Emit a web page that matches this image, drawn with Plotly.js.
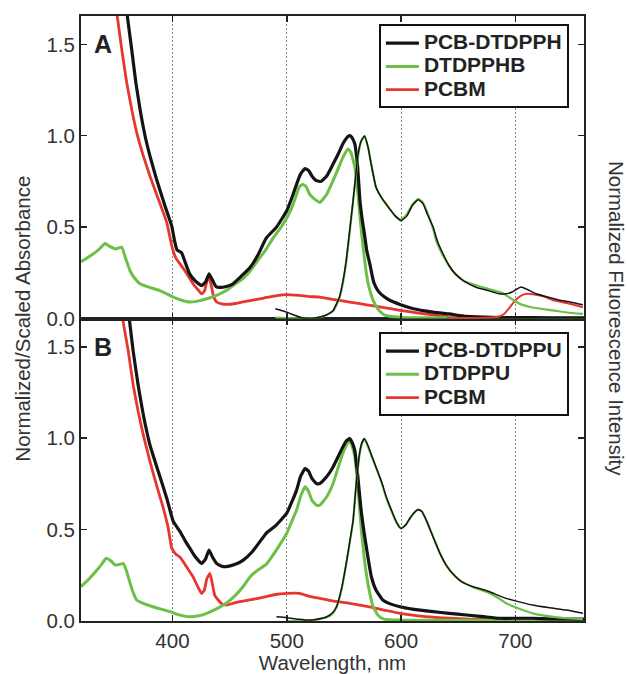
<!DOCTYPE html>
<html>
<head>
<meta charset="utf-8">
<script src="https://cdn.plot.ly/plotly-3.0.1.min.js"></script>
<style>html,body{margin:0;padding:0;background:#fff;}#chart{width:627px;height:674px;}</style>
</head>
<body>
<div id="chart"></div>
<script>
// ---------- Panel A data ----------
const wlAbsA_pcb = [355,360.5,364.3,368,371.6,376,380.3,386,393.4,396.5,399.3,402,404,408,411,415,420,425.5,429,432,435,438,441.5,447,453,460,468,475,482,491,500,505,508.6,512,516,519,522,526,530,535,540.5,545,549,552,555,557,559.5,562,564,566,568,570,572.6,576,580,585,590,599,610,628,642,657,680,700,730,760];
const absA_pcb   = [2.0,1.656,1.474,1.29,1.146,1.0,0.89,0.763,0.617,0.56,0.508,0.42,0.375,0.36,0.31,0.244,0.205,0.18,0.20,0.244,0.21,0.175,0.17,0.175,0.19,0.23,0.28,0.35,0.44,0.50,0.59,0.67,0.735,0.79,0.82,0.81,0.78,0.754,0.75,0.78,0.845,0.90,0.955,0.985,1.0,0.99,0.955,0.83,0.645,0.54,0.46,0.37,0.30,0.20,0.15,0.12,0.10,0.077,0.055,0.035,0.025,0.012,0.006,0.005,0.004,0.003];

const wlAbsA_dye = [320,325,331,336,341,345,350,355.6,359,363,367,371.6,380,389,395,400.7,408,415,422,430,438,447,455,462,468,475,482,488,494,500,504,508.6,511,514,517,520,523,526,529,535,540.5,545,549,553.6,556,559.5,562,564,567,569.7,572,575.5,580,584,590,600,650,700,760];
const absA_dye   = [0.31,0.33,0.355,0.38,0.41,0.395,0.38,0.39,0.33,0.26,0.22,0.19,0.17,0.153,0.135,0.117,0.10,0.09,0.095,0.108,0.125,0.153,0.19,0.22,0.26,0.32,0.38,0.44,0.49,0.55,0.60,0.68,0.72,0.735,0.72,0.68,0.66,0.645,0.635,0.68,0.754,0.82,0.88,0.927,0.91,0.83,0.70,0.555,0.38,0.244,0.17,0.10,0.05,0.025,0.012,0.006,0.004,0.003,0.002];

const wlAbsA_pcbm = [348,351.7,355.6,360,364.3,368.7,374.5,380.3,387.6,395,399.3,403,406.5,412,418,422,425.5,428,430,432,434,436,438.6,443,447,455,468,480,490,500,511,520,529,540,555,570,585,599,615,630,642.5,660,680];
const absA_pcbm   = [1.85,1.656,1.474,1.29,1.146,1.018,0.89,0.78,0.654,0.526,0.40,0.33,0.30,0.25,0.19,0.16,0.135,0.15,0.20,0.226,0.18,0.12,0.09,0.08,0.077,0.082,0.098,0.112,0.124,0.131,0.126,0.12,0.117,0.105,0.09,0.075,0.06,0.045,0.03,0.018,0.008,0.004,0.003];

const wlEmA_pcb = [490,500,508,516,525,530,535,540.5,546,549,552,555,558,562.4,565,568,571,574,578,583,590,595,600,605,610,615,619,623,628,632,637,642,648,655,666,675,686,692,697,701,705,710,718,728,739,750,759];
const emA_pcb   = [0.053,0.035,0.015,0.0,0.003,0.01,0.02,0.044,0.116,0.20,0.317,0.48,0.645,0.90,0.97,1.0,0.94,0.84,0.72,0.66,0.60,0.56,0.535,0.56,0.62,0.65,0.63,0.57,0.50,0.42,0.35,0.29,0.24,0.205,0.17,0.155,0.135,0.135,0.145,0.16,0.172,0.16,0.135,0.118,0.10,0.088,0.075];

const wlEmA_dye = [490,516,530,540.5,546,549,552,555,558,562.4,565,568,571,574,578,583,590,595,600,605,610,615,619,623,628,631,637,645,655,669,680,689,696,704,715,733,745,759];
const emA_dye   = [0.005,0.0,0.008,0.04,0.11,0.19,0.31,0.47,0.64,0.89,0.97,0.995,0.94,0.84,0.72,0.66,0.60,0.56,0.54,0.57,0.625,0.655,0.635,0.58,0.49,0.42,0.34,0.26,0.205,0.175,0.155,0.138,0.11,0.08,0.06,0.044,0.033,0.025];

const wlEmA_pcbm = [640,660,675,685,690,695,700,705,710,715,725,733,745,759];
const emA_pcbm   = [0.003,0.003,0.004,0.01,0.025,0.06,0.10,0.125,0.135,0.133,0.12,0.10,0.085,0.062];

// ---------- Panel B data ----------
const wlAbsB_pcb = [359,362.2,365.7,370,374.5,380.3,387.6,395,400.7,406.5,411,415,419,425.5,429,432,435,438.6,443,447,455,462,470,476,482,490,500,505,508.6,512,516,519,522,526,529,535,540.5,545,549,552,555,557,559.5,562,565,567.5,570,574,578,584,590,599,610,628,642,657,672,686,700,715,730,745,760];
const absB_pcb   = [1.85,1.656,1.474,1.29,1.128,0.963,0.818,0.672,0.545,0.49,0.44,0.40,0.36,0.315,0.34,0.388,0.35,0.315,0.30,0.297,0.31,0.333,0.38,0.43,0.48,0.52,0.59,0.66,0.716,0.79,0.834,0.82,0.78,0.752,0.752,0.79,0.843,0.90,0.952,0.985,0.998,0.98,0.934,0.80,0.607,0.49,0.388,0.242,0.17,0.115,0.095,0.078,0.065,0.051,0.042,0.033,0.024,0.015,0.015,0.015,0.012,0.011,0.01];

const wlAbsB_dye = [320,327,334,338,342,346,350,354,357,360,363,366,368.7,375,383,390,398,405,415,422,430,438,447,455,462,468,475,482,490,500,504,508.6,512,516,519,522,526,529,535,540.5,545,549,552,555,557,559.5,562,565,567.5,570,573,575.5,580,585,600,700,760];
const absB_dye   = [0.188,0.23,0.279,0.31,0.343,0.33,0.306,0.31,0.315,0.27,0.206,0.15,0.115,0.095,0.078,0.065,0.051,0.035,0.023,0.027,0.042,0.065,0.097,0.14,0.19,0.242,0.28,0.31,0.38,0.48,0.54,0.607,0.68,0.734,0.71,0.66,0.634,0.634,0.68,0.752,0.84,0.916,0.96,0.989,0.96,0.90,0.75,0.515,0.36,0.242,0.14,0.078,0.03,0.01,0.005,0.003,0.002];

const wlAbsB_pcbm = [353,356.4,361.4,365.7,370,374.5,380.3,386,392,396.3,399.3,403,406.5,412,418,422,425.5,428,430,432.8,435,437,440,443,447,455,467.7,480,490,500,511,520,529,540,555,570,585,599,615,630,642.5,660,700,760];
const absB_pcbm   = [1.85,1.656,1.474,1.29,1.146,1.018,0.873,0.745,0.617,0.508,0.40,0.365,0.35,0.30,0.242,0.19,0.15,0.17,0.23,0.26,0.20,0.14,0.115,0.095,0.087,0.10,0.115,0.13,0.145,0.151,0.151,0.135,0.124,0.11,0.097,0.08,0.06,0.042,0.028,0.02,0.015,0.01,0.007,0.005];

const wlEmB_pcb = [491,500,510,517,525,535,540,543.5,548,552,555,558,561,564,566,568,571,574,578,583,587,592,596,600,604,607.6,611,615,618,622,628,634,640,645,653,663,670,677.5,685,692,700,715,730,744.6,759];
const emB_pcb   = [0.023,0.018,0.01,0.005,0.008,0.023,0.045,0.078,0.18,0.315,0.43,0.55,0.77,0.93,0.98,0.998,0.96,0.91,0.843,0.76,0.68,0.60,0.54,0.506,0.525,0.561,0.59,0.61,0.60,0.552,0.46,0.37,0.30,0.26,0.215,0.187,0.175,0.16,0.14,0.124,0.11,0.087,0.072,0.06,0.042];

const wlEmB_dye = [500,520,535,540,543.5,548,552,555,558,561,564,566,568,571,574,578,583,587,592,596,600,604,607.6,611,615,618,622,628,634,640,645,653,663,677,685,692,700,715,730,745,759];
const emB_dye   = [0.0,0.0,0.02,0.04,0.075,0.175,0.31,0.425,0.545,0.765,0.925,0.975,0.995,0.955,0.905,0.84,0.755,0.675,0.595,0.54,0.506,0.525,0.561,0.59,0.61,0.60,0.552,0.46,0.37,0.30,0.26,0.215,0.185,0.153,0.125,0.097,0.075,0.042,0.025,0.015,0.01];

// ---------- labels ----------
const namesA = ['PCB-DTDPPH','DTDPPHB','PCBM'];
const namesB = ['PCB-DTDPPU','DTDPPU','PCBM'];
const xTicks = [400,500,600,700];
const yTicks = [0,0.5,1.0,1.5];

const BLACK = '#141414', GREEN = '#6cbf47', RED = '#e8352e';
const SH = {shape:'spline', smoothing:0.4};

function tr(x, y, yax, color, width, name, legend, rank){
  const t = {x:x, y:y, xaxis: yax==='y2' ? 'x2' : 'x', yaxis:yax, mode:'lines',
    line:Object.assign({color:color, width:width}, SH), hoverinfo:'skip'};
  if(name){ t.name = '<span style="font-size:21px"><b>'+name+'</b></span>'; t.legend = legend; t.legendrank = rank; t.showlegend = true; }
  else t.showlegend = false;
  return t;
}

const data = [
  // Panel A (top)
  tr(wlAbsA_pcbm, absA_pcbm, 'y2', RED, 2.8, namesA[2], 'legend', 3),
  tr(wlAbsA_dye, absA_dye, 'y2', GREEN, 3, namesA[1], 'legend', 2),
  tr(wlAbsA_pcb, absA_pcb, 'y2', BLACK, 3.2, namesA[0], 'legend', 1),
  tr(wlEmA_pcbm, emA_pcbm, 'y2', RED, 2),
  tr(wlEmA_dye, emA_dye, 'y2', GREEN, 2.2),
  tr(wlEmA_pcb, emA_pcb, 'y2', BLACK, 1.5),
  // Panel B (bottom)
  tr(wlAbsB_pcbm, absB_pcbm, 'y', RED, 2.8, namesB[2], 'legend2', 3),
  tr(wlAbsB_dye, absB_dye, 'y', GREEN, 3, namesB[1], 'legend2', 2),
  tr(wlAbsB_pcb, absB_pcb, 'y', BLACK, 3.2, namesB[0], 'legend2', 1),
  tr(wlEmB_dye, emB_dye, 'y', GREEN, 2.2),
  tr(wlEmB_pcb, emB_pcb, 'y', BLACK, 1.5)
];

const FONT = 'Liberation Sans, Arial, Helvetica, sans-serif';
const AX = {color:'#222', linecolor:'#222', linewidth:2, showline:true, mirror:'ticks',
  ticks:'inside', ticklen:6, tickwidth:1.5, tickcolor:'#222', zeroline:false,
  tickfont:{family:FONT, size:20.5, color:'#333'}};
const XAX = Object.assign({}, AX, {range:[320,760], tickvals:xTicks, showgrid:true,
  gridcolor:'#666', gridwidth:0.8, griddash:'2px,2px'});
const YAX = Object.assign({}, AX, {range:[0,1.655], tickvals:yTicks, tickformat:'.1f', showgrid:false});

const LEG = {xref:'paper', yref:'paper', xanchor:'right', yanchor:'top', x:0.970,
  bgcolor:'#fff', bordercolor:'#111', borderwidth:2, itemwidth:33,
  font:{family:FONT, size:15.6, color:'#222'}, traceorder:'normal'};

const layout = {
  width:627, height:674,
  margin:{l:81, r:43, t:16, b:53},
  paper_bgcolor:'#fff', plot_bgcolor:'#fff',
  font:{family:FONT, color:'#333'},
  xaxis: Object.assign({}, XAX, {anchor:'y', domain:[0,1],
    title:{text:'Wavelength, nm', font:{family:FONT, size:20.5, color:'#333'}, standoff:4}}),
  xaxis2: Object.assign({}, XAX, {anchor:'y2', domain:[0,1], matches:'x', showticklabels:false}),
  yaxis: Object.assign({}, YAX, {anchor:'x', domain:[0,0.5]}),
  yaxis2: Object.assign({}, YAX, {anchor:'x2', domain:[0.5,1]}),
  legend: Object.assign({}, LEG, {y:0.986}),
  legend2: Object.assign({}, LEG, {y:0.477}),
  annotations:[
    {text:'<b>A</b>', xref:'paper', yref:'y2', x:0.022, y:1.5, xanchor:'left', yanchor:'middle',
     showarrow:false, font:{family:FONT, size:25, color:'#222'}},
    {text:'<b>B</b>', xref:'paper', yref:'y', x:0.022, y:1.5, xanchor:'left', yanchor:'middle',
     showarrow:false, font:{family:FONT, size:25, color:'#222'}},
    {text:'Normalized/Scaled Absorbance', xref:'paper', yref:'paper', x:-0.117, y:0.5,
     xanchor:'center', yanchor:'middle', textangle:-90, showarrow:false,
     font:{family:FONT, size:20.5, color:'#333'}},
    {text:'Normalized Fluorescence Intensity', xref:'paper', yref:'paper', x:1.0646, y:0.5,
     xanchor:'center', yanchor:'middle', textangle:90, showarrow:false,
     font:{family:FONT, size:20.5, color:'#333'}}
  ]
};

Plotly.newPlot('chart', data, layout, {staticPlot:true, displayModeBar:false});
</script>
</body>
</html>
